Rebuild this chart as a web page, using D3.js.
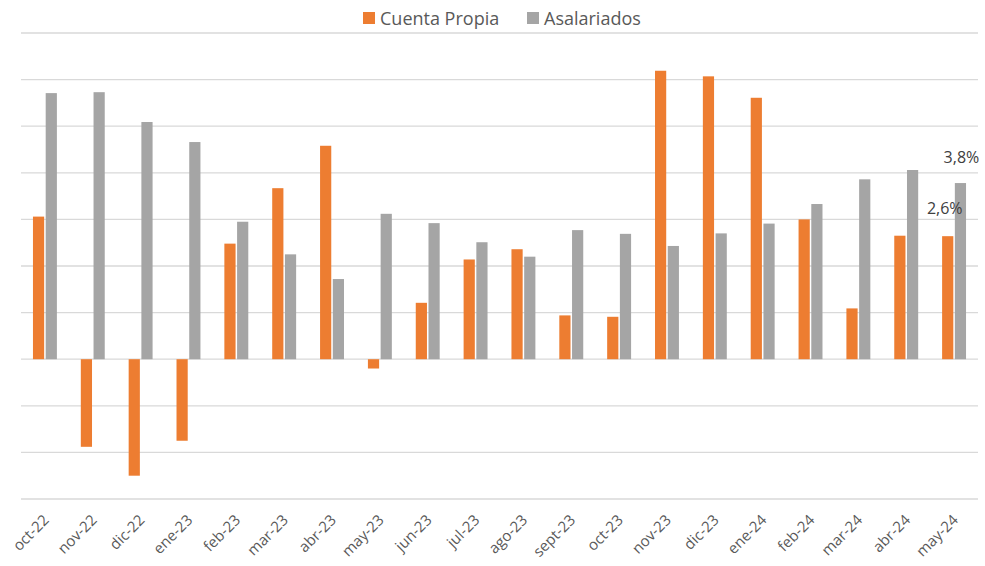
<!DOCTYPE html>
<html>
<head>
<meta charset="utf-8">
<script src="https://cdn.jsdelivr.net/npm/d3@7"></script>
<style>
  body { margin: 0; background: #fff; }
  text { font-family: "Open Sans", "Liberation Sans", sans-serif; }
</style>
</head>
<body>
<script>
const w = 985;
const h = 566;

// months on the x axis
const months = ["oct-22", "nov-22", "dic-22", "ene-23", "feb-23", "mar-23", "abr-23",
    "may-23", "jun-23", "jul-23", "ago-23", "sept-23", "oct-23", "nov-23", "dic-23",
    "ene-24", "feb-24", "mar-24", "abr-24", "may-24"];

// series values, %
const cuentaPropia = [3.06, -1.88, -2.50, -1.75, 2.48, 3.67, 4.58, -0.20, 1.21, 2.14,
    2.36, 0.94, 0.91, 6.19, 6.07, 5.61, 3.00, 1.09, 2.65, 2.64];
const asalariados = [5.71, 5.73, 5.09, 4.66, 2.95, 2.25, 1.72, 3.12, 2.92, 2.51,
    2.20, 2.77, 2.69, 2.43, 2.70, 2.91, 3.33, 3.86, 4.06, 3.78];

const seriesNames = ["Cuenta Propia", "Asalariados"];
const colors = ["#ED7D31", "#A5A5A5"];
const gridTicks = [-3, -2, -1, 0, 1, 2, 3, 4, 5, 6, 7];

const margin = {top: 33, right: 7, bottom: 67, left: 21};

let svg = d3.select("body")
    .append("svg")
    .attr("width", w)
    .attr("height", h);

let x = d3.scaleBand()
    .domain(months)
    .range([margin.left, w - margin.right]);

let y = d3.scaleLinear()
    .domain([-3, 7])
    .range([h - margin.bottom, margin.top]);

let inner = d3.scaleBand()
    .domain(seriesNames)
    .range([x.bandwidth() * 0.25, x.bandwidth() * 0.75])
    .paddingInner(0.12);

// gridlines
svg.append("g")
    .selectAll("line")
    .data(gridTicks)
    .enter()
    .append("line")
    .attr("x1", margin.left)
    .attr("x2", w - margin.right)
    .attr("y1", (d) => y(d))
    .attr("y2", (d) => y(d))
    .style("stroke", "#d9d9d9")
    .style("stroke-width", 1.3);

let rows = months.map((m, i) => ({month: m, values: [cuentaPropia[i], asalariados[i]]}));

let groups = svg.selectAll("g.month")
    .data(rows)
    .enter()
    .append("g")
    .attr("class", "month")
    .attr("transform", (d) => "translate(" + x(d.month) + ",0)");

groups.selectAll("rect")
    .data((d) => d.values.map((v, j) => ({name: seriesNames[j], value: v, j: j})))
    .enter()
    .append("rect")
    .attr("x", (d) => inner(d.name))
    .attr("width", inner.bandwidth())
    .attr("y", (d) => y(Math.max(0, d.value)))
    .attr("height", (d) => Math.abs(y(d.value) - y(0)))
    .style("fill", (d) => colors[d.j]);

// x axis labels, rotated
let xAxis = svg.append("g")
    .attr("transform", "translate(0," + (h - margin.bottom) + ")")
    .call(d3.axisBottom(x).tickSize(0).tickPadding(0));
xAxis.select(".domain").remove();
xAxis.selectAll("text")
    .style("font-size", "15px")
    .style("fill", "#595959")
    .style("text-anchor", "end")
    .attr("dy", null)
    .attr("y", 0)
    .attr("transform", "translate(5,22) rotate(-45)");

// value labels for last month
const last = months.length - 1;
svg.append("text")
    .attr("x", x(months[last]) + inner("Asalariados") + inner.bandwidth() / 2 + 1)
    .attr("y", y(asalariados[last]) - 20)
    .attr("text-anchor", "middle")
    .style("font-size", "16px")
    .style("fill", "#404040")
    .text("3,8%");
svg.append("text")
    .attr("x", x(months[last]) + inner("Cuenta Propia") + inner.bandwidth() / 2 - 3)
    .attr("y", y(cuentaPropia[last]) - 22)
    .attr("text-anchor", "middle")
    .style("font-size", "16px")
    .style("fill", "#404040")
    .text("2,6%");

// legend
let legendX = [363, 527];
let legend = svg.append("g");
seriesNames.forEach((name, i) => {
    legend.append("rect")
        .attr("x", legendX[i])
        .attr("y", 12)
        .attr("width", 12)
        .attr("height", 12)
        .style("fill", colors[i]);
    legend.append("text")
        .attr("x", legendX[i] + 17)
        .attr("y", 25)
        .style("font-size", "18px")
        .style("fill", "#595959")
        .text(name);
});
</script>
</body>
</html>
